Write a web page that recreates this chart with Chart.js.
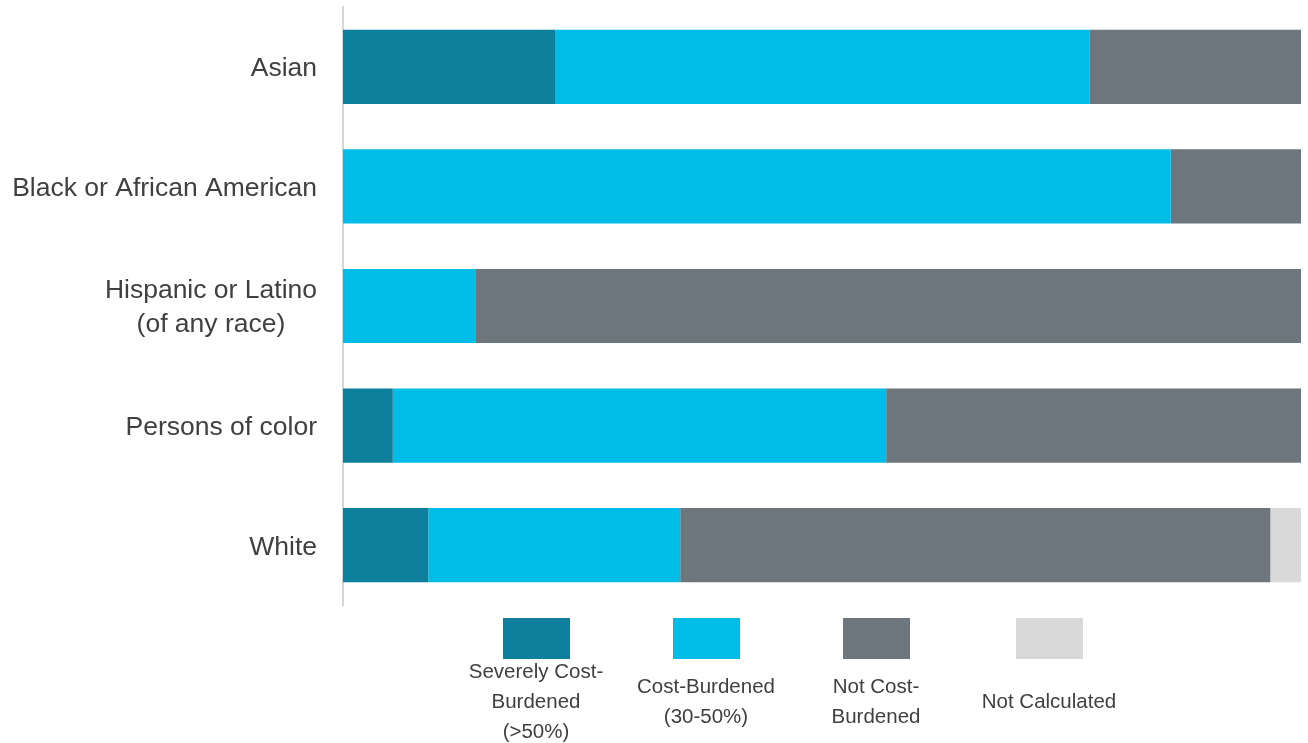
<!DOCTYPE html>
<html>
<head>
<meta charset="utf-8">
<script src="https://cdn.jsdelivr.net/npm/chart.js@4/dist/chart.umd.min.js"></script>
<style>
  html, body { margin: 0; padding: 0; background: #ffffff; }
  #wrap { position: relative; width: 1308px; height: 743px; overflow: hidden; }
  #c { position: absolute; left: 0; top: 0; }
  .leg { position: absolute; top: 618px; width: 160px; display: flex; flex-direction: column; align-items: center;
         font-family: "Liberation Sans", Arial, sans-serif; font-size: 20.5px; color: #404040; }
  .leg .box { width: 67px; height: 41px; }
  .leg .txt { height: 84px; width: 150px; display: flex; align-items: center; justify-content: center;
              text-align: center; line-height: 30px; }
</style>
</head>
<body>
<div id="wrap">
  <canvas id="c" width="1308" height="743"></canvas>
  <div id="legend"></div>
</div>
<script>
const categories = ["Asian", "Black or African American", ["Hispanic or Latino", "(of any race)"], "Persons of color", "White"];
const seriesLabels = ["Severely Cost-Burdened (>50%)", "Cost-Burdened (30-50%)", "Not Cost-Burdened", "Not Calculated"];
const severelyCostBurdened = [22.2, 0, 0, 5.2, 8.9];
const costBurdened = [55.7, 86.4, 13.8, 51.5, 26.3];
const notCostBurdened = [22.1, 13.6, 86.2, 43.3, 61.6];
const notCalculated = [0, 0, 0, 0, 3.2];
const seriesColors = ["#0E809D", "#00BDE8", "#6D757D", "#D9D9D9"];
const legendCenters = [536, 706, 876, 1049];

const labelFont = '26.5px "Liberation Sans", Arial, sans-serif';

const yLabelPlugin = {
  id: 'yLabels',
  afterDraw(chart) {
    const ctx = chart.ctx;
    const scale = chart.scales.y;
    const rightEdge = scale.right - 26;
    ctx.save();
    ctx.font = labelFont;
    ctx.fillStyle = '#404040';
    ctx.textAlign = 'center';
    ctx.textBaseline = 'middle';
    const lineH = 34;
    chart.data.labels.forEach((lab, i) => {
      const lines = Array.isArray(lab) ? lab : [lab];
      const maxW = Math.max(...lines.map(l => ctx.measureText(l).width));
      const cx = rightEdge - maxW / 2;
      const cy = scale.getPixelForTick(i) + 2;
      const start = cy - (lines.length - 1) * lineH / 2;
      lines.forEach((l, k) => ctx.fillText(l, cx, start + k * lineH));
    });
    ctx.restore();
  }
};

const dataSeries = [severelyCostBurdened, costBurdened, notCostBurdened, notCalculated];

const chart = new Chart(document.getElementById('c'), {
  type: 'bar',
  data: {
    labels: categories,
    datasets: dataSeries.map((d, i) => ({
      label: seriesLabels[i],
      data: d,
      backgroundColor: seriesColors[i],
      borderWidth: 0,
      categoryPercentage: 0.62,
      barPercentage: 1.0
    }))
  },
  options: {
    indexAxis: 'y',
    responsive: false,
    animation: false,
    layout: { padding: { top: 7, bottom: 138, right: 7, left: 0 } },
    plugins: { legend: { display: false }, tooltip: { enabled: false } },
    scales: {
      x: { stacked: true, min: 0, max: 100, display: false },
      y: {
        stacked: true,
        grid: { display: false, drawTicks: false },
        border: { display: true, color: '#D6D6D6', width: 2 },
        ticks: { display: false },
        afterFit(scale) { scale.width = 343; }
      }
    }
  },
  plugins: [yLabelPlugin]
});

const legendEl = document.getElementById('legend');
chart.data.datasets.forEach((ds, i) => {
  const item = document.createElement('div');
  item.className = 'leg';
  item.style.left = (legendCenters[i] - 80) + 'px';
  const box = document.createElement('div');
  box.className = 'box';
  box.style.background = ds.backgroundColor;
  const txt = document.createElement('div');
  txt.className = 'txt';
  const span = document.createElement('span');
  span.textContent = ds.label;
  txt.appendChild(span);
  item.appendChild(box);
  item.appendChild(txt);
  legendEl.appendChild(item);
});
</script>
</body>
</html>
